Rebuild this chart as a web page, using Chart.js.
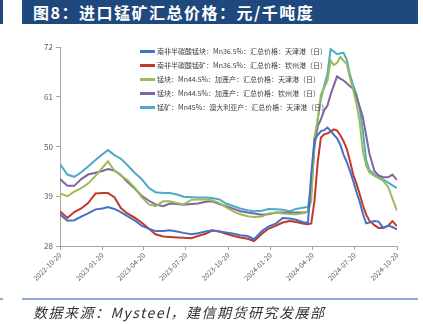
<!DOCTYPE html>
<html>
<head>
<meta charset="utf-8">
<script src="https://cdn.jsdelivr.net/npm/chart.js@4.4.1/dist/chart.umd.min.js"></script>
<style>
  body { margin: 0; width: 423px; height: 324px; position: relative; background: #fff; overflow: hidden; font-family: "Noto Sans CJK SC", sans-serif; }
  #title { position: absolute; left: 22px; top: 0; width: 396px; height: 24px; background: #1f497d; color: #fff; font-size: 16px; font-weight: bold; line-height: 24px; padding-left: 11px; box-sizing: border-box; letter-spacing: 1.5px; }
  .stub { position: absolute; left: 0; width: 3px; background: #1f497d; }
  #wrap { position: absolute; left: 0; top: 30px; width: 423px; height: 270px; }
  #legend { position: absolute; left: 140px; top: 44px; font-size: 7px; color: #404040; }
  #legend div { height: 14px; line-height: 14px; white-space: nowrap; }
  #legend span { display: inline-block; width: 15px; height: 3px; vertical-align: middle; margin-right: 2px; position: relative; top: -1px; }
  #footline { position: absolute; left: 22px; top: 298px; width: 396px; height: 2px; background: #8eaadb; }
  #source { position: absolute; left: 33px; top: 302px; font-size: 14px; font-style: italic; color: #333; letter-spacing: 1.5px; line-height: 20px; }
</style>
</head>
<body>
<div class="stub" style="top:0;height:24px"></div>
<div id="title">图8：进口锰矿汇总价格：元/千吨度</div>
<div id="wrap"><canvas id="priceChart"></canvas></div>
<div id="legend"></div>
<div class="stub" style="top:298px;height:2px;background:#8eaadb"></div>
<div id="footline"></div>
<div id="source">数据来源：Mysteel，建信期货研究发展部</div>
<script>
const dates = [
  "2022-10-20", "2022-11-05", "2022-11-20", "2022-12-05", "2022-12-20", "2023-01-05", "2023-01-20",
  "2023-02-01", "2023-02-15", "2023-03-01", "2023-03-15", "2023-04-01", "2023-04-15", "2023-05-01",
  "2023-05-15", "2023-06-01", "2023-06-15", "2023-07-01", "2023-07-15", "2023-08-01", "2023-08-15",
  "2023-09-01", "2023-09-15", "2023-10-01", "2023-10-15", "2023-11-01", "2023-11-15", "2023-12-01",
  "2023-12-15", "2024-01-01", "2024-01-15", "2024-02-01", "2024-02-15", "2024-03-01", "2024-03-15",
  "2024-04-01", "2024-04-10", "2024-04-17", "2024-04-24", "2024-05-01", "2024-05-08", "2024-05-15",
  "2024-05-22", "2024-05-29", "2024-06-05", "2024-06-12", "2024-06-19", "2024-06-26", "2024-07-03",
  "2024-07-10", "2024-07-17", "2024-07-24", "2024-07-31", "2024-08-07", "2024-08-14", "2024-08-21",
  "2024-09-01", "2024-09-10", "2024-09-20", "2024-10-01", "2024-10-10", "2024-10-20"
];

const saBlockTianjin = [
  35.0, 33.6, 33.7, 34.5, 35.2, 36.1, 36.3,
  36.6, 36.2, 35.5, 34.6, 33.6, 32.5, 31.8,
  31.3, 31.3, 31.5, 31.2, 30.9, 30.6, 30.8,
  31.2, 31.5, 31.2, 31.0, 30.7, 30.4, 30.2,
  29.5, 31.3, 32.3, 33.0, 34.2, 34.1, 33.8,
  33.2, 33.2, 44.0, 51.5, 52.5, 53.4, 53.6,
  54.2, 53.5, 52.6, 51.8, 50.4, 48.2, 46.6,
  44.6, 42.4, 40.0, 37.8, 35.2, 33.0, 33.2,
  33.5, 33.4, 32.0, 32.5, 32.2, 31.7
];
const saOreQinzhou = [
  35.7, 34.2, 35.5, 36.3, 37.5, 39.6, 39.7,
  39.7, 38.8, 36.4, 35.2, 34.2, 33.2, 31.8,
  30.6, 30.1, 30.0, 29.9, 29.8, 29.7, 30.2,
  30.7, 31.4, 31.2, 30.7, 30.2, 29.9, 29.6,
  29.1, 30.7, 31.8, 32.5, 33.2, 33.5, 33.3,
  32.9, 32.8, 33.0, 38.0, 46.5, 52.0, 52.7,
  52.9, 53.3, 53.8, 53.5, 52.5, 51.2, 49.5,
  46.8, 43.8, 41.8, 39.5, 37.0, 35.0, 33.6,
  32.6, 32.0, 32.0, 32.5, 33.5, 32.4
];
const gabonTianjin = [
  39.6, 39.0, 40.0, 40.8, 41.8, 43.5, 45.3,
  46.7, 44.7, 43.6, 42.6, 40.8, 38.8, 37.2,
  36.8, 37.9, 37.9, 37.5, 37.2, 38.2, 38.3,
  38.3, 38.1, 37.5, 36.6, 35.6, 35.0, 34.6,
  34.4, 34.5, 35.2, 35.4, 35.2, 35.1, 35.0,
  35.3, 35.6, 38.0, 52.0, 56.0, 61.5, 63.0,
  64.5, 69.0, 68.0, 68.5, 69.8, 69.0, 68.2,
  65.2, 62.5, 59.5, 55.5, 49.0, 45.8, 44.3,
  43.5, 43.0, 42.4, 41.0, 38.5, 35.8
];
const gabonQinzhou = [
  42.8, 41.3, 41.3, 42.8, 43.8, 44.2, 44.6,
  45.0, 44.7, 43.7, 42.2, 40.6, 39.1, 38.0,
  37.2, 36.8, 37.4, 37.3, 37.1, 37.3, 37.4,
  37.8, 37.9, 37.3, 36.8, 36.2, 35.7, 35.4,
  35.2, 34.9, 35.0, 35.4, 35.4, 35.4, 35.4,
  35.4, 35.6, 40.0, 50.0, 54.5, 56.0, 58.0,
  59.0, 61.5, 63.5, 65.5, 65.0, 64.6, 64.0,
  63.3, 62.8, 61.0, 58.8, 56.5, 52.5, 48.5,
  44.6, 43.6, 43.2, 43.2, 43.8, 42.6
];
const ausTianjin = [
  46.1, 43.8, 43.3, 44.3, 45.6, 47.0, 48.3,
  49.2, 48.1, 47.3, 45.9, 44.1, 42.8, 40.8,
  39.9, 39.7, 39.7, 39.4, 38.9, 38.8, 38.7,
  38.7, 38.6, 38.3, 37.4, 36.8, 36.3, 35.9,
  35.7, 35.8, 36.2, 36.1, 36.0, 35.7, 36.2,
  36.5, 36.6, 42.0, 50.5, 56.0, 60.5, 63.5,
  66.0, 71.5, 71.0, 70.4, 70.6, 70.7, 69.2,
  65.9, 63.5, 61.5, 58.5, 53.5, 47.0, 44.8,
  43.8, 43.2, 42.7, 42.0, 41.4, 40.8
];

const seriesNames = [
  "南非半碳酸锰块：Mn36.5%：汇总价格：天津港（日）",
  "南非半碳酸锰矿：Mn36.5%：汇总价格：钦州港（日）",
  "锰块：Mn44.5%：加蓬产：汇总价格：天津港（日）",
  "锰块：Mn44.5%：加蓬产：汇总价格：钦州港（日）",
  "锰矿：Mn45%：澳大利亚产：汇总价格：天津港（日）"
];
const seriesColors = ["#4472c4", "#c0392b", "#9bbb59", "#8064a2", "#4bacc6"];
const tickLabels = ["2022-10-20", "2023-01-20", "2023-04-20", "2023-07-20", "2023-10-20",
                    "2024-01-20", "2024-04-20", "2024-07-20", "2024-10-20"];
const yTicks = [28, 39, 50, 61, 72];

const start = Date.UTC(2022, 9, 20);
function dayOf(s) {
  const [y, m, d] = s.split('-').map(Number);
  return Math.round((Date.UTC(y, m - 1, d) - start) / 86400000);
}

const allSeries = [saBlockTianjin, saOreQinzhou, gabonTianjin, gabonQinzhou, ausTianjin];
const datasets = allSeries.map((vals, i) => ({
  label: seriesNames[i],
  data: vals.map((v, j) => ({ x: dayOf(dates[j]), y: v })),
  borderColor: seriesColors[i],
  backgroundColor: seriesColors[i],
  borderWidth: 2,
  pointRadius: 0,
  tension: 0
}));

// legend as html
const legendEl = document.getElementById('legend');
seriesNames.forEach((name, i) => {
  const row = document.createElement('div');
  row.innerHTML = '<span style="background:' + seriesColors[i] + '"></span>' + name;
  legendEl.appendChild(row);
});

const tickDays = tickLabels.map(dayOf);
const axisColor = '#a6a6a6';

new Chart(document.getElementById('priceChart'), {
  type: 'line',
  data: { datasets: datasets },
  options: {
    responsive: true,
    maintainAspectRatio: false,
    animation: false,
    layout: { padding: { left: 0, right: 26, top: 17, bottom: 0 } },
    plugins: { legend: { display: false }, tooltip: { enabled: false } },
    scales: {
      x: {
        type: 'linear',
        min: 0,
        max: tickDays[tickDays.length - 1],
        afterBuildTicks: s => { s.ticks = tickDays.map(v => ({ value: v })); },
        afterFit: s => { s.height = 54; },
        border: { color: axisColor, width: 1 },
        grid: { drawOnChartArea: false, drawTicks: true, tickLength: 4, color: axisColor },
        ticks: {
          autoSkip: false,
          maxRotation: 45,
          minRotation: 45,
          padding: 1,
          color: '#595959',
          font: { size: 7, family: 'Noto Sans CJK SC' },
          callback: v => tickLabels[tickDays.indexOf(v)]
        }
      },
      y: {
        min: 28,
        max: 72,
        afterBuildTicks: s => { s.ticks = yTicks.map(v => ({ value: v })); },
        afterFit: s => { s.width = 60; },
        border: { color: axisColor, width: 1 },
        grid: { drawOnChartArea: false, drawTicks: true, tickLength: 4, color: axisColor },
        ticks: {
          padding: 3,
          color: '#595959',
          font: { size: 8, family: 'Noto Sans CJK SC' }
        }
      }
    }
  }
});
</script>
</body>
</html>
